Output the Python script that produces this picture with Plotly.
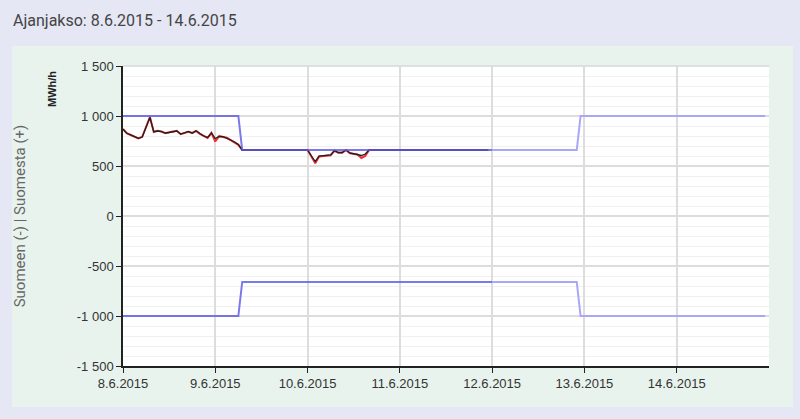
import plotly.graph_objects as go
import pandas as pd

start = pd.Timestamp("2015-06-08 00:00")

# hourly measured flow (red) and planned flow (black), MWh/h, hours 0..95
flow_black = [867, 825, 812, 795, 777, 790, 880, 985, 843, 850, 843, 830,
              835, 845, 850, 820, 830, 845, 828, 853, 825, 800, 785, 830,
              775, 795, 793, 780, 760, 740, 715, 660] + [660] * 16 + \
             [660, 600, 545, 598, 602, 605, 610, 655, 635, 635, 660, 630,
              622, 618, 605, 620] + [660] * 32
flow_red = [870, 828, 810, 793, 775, 792, 885, 990, 840, 852, 845, 828,
            838, 843, 852, 818, 832, 843, 830, 850, 822, 798, 780, 832,
            745, 798, 790, 782, 758, 738, 712, 660] + [660] * 16 + \
           [660, 595, 527, 595, 600, 603, 608, 652, 632, 632, 660, 627,
            620, 615, 580, 600] + [660] * 32

# capacity limits, hours 0..167 ; confirmed up to hour 96, forecast after
cap_export = [1000] * 31 + [660] * 88 + [1000] * 49
cap_import = [-1000] * 31 + [-660] * 88 + [-1000] * 49

ytick_vals = [-1500, -1000, -500, 0, 500, 1000, 1500]
ytick_text = ["-1 500", "-1 000", "-500", "0", "500", "1 000", "1 500"]
xtick_days = ["2015-06-08", "2015-06-09", "2015-06-10", "2015-06-11",
              "2015-06-12", "2015-06-13", "2015-06-14"]
xtick_text = ["8.6.2015", "9.6.2015", "10.6.2015", "11.6.2015",
              "12.6.2015", "13.6.2015", "14.6.2015"]

t_all = pd.date_range(start, periods=168, freq="h")
t_flow = t_all[:len(flow_black)]
split = 96

fig = go.Figure()
fig.add_trace(go.Scatter(x=t_flow, y=flow_red, mode="lines",
                         line=dict(color="#F03030", width=2), hoverinfo="skip"))
fig.add_trace(go.Scatter(x=t_flow, y=flow_black, mode="lines",
                         line=dict(color="#202020", width=1.3), hoverinfo="skip"))
for cap in (cap_export, cap_import):
    fig.add_trace(go.Scatter(x=t_all[:split + 1], y=cap[:split + 1], mode="lines",
                             line=dict(color="#5A5AE6", width=2), opacity=0.8,
                             hoverinfo="skip"))
    fig.add_trace(go.Scatter(x=t_all[split:], y=cap[split:], mode="lines",
                             line=dict(color="#A8A8F6", width=2),
                             hoverinfo="skip"))

fig.update_layout(
    width=800, height=419,
    margin=dict(l=123, r=31, t=66, b=53),
    paper_bgcolor="#E6E7F4",
    plot_bgcolor="#FFFFFF",
    showlegend=False,
    font=dict(family="Liberation Sans, Arial", size=13, color="#333333"),
    shapes=[dict(type="rect", xref="paper", yref="paper",
                 x0=-111 / 646, x1=1 + 24 / 646, y0=-41 / 300, y1=1 + 20 / 300,
                 fillcolor="#E8F3EE", line=dict(width=0), layer="below"),
            dict(type="rect", xref="paper", yref="paper",
                 x0=0, x1=1, y0=0, y1=1,
                 fillcolor="#FFFFFF", line=dict(width=0), layer="below"),
            dict(type="line", xref="paper", yref="paper", x0=0, x1=1, y0=1, y1=1,
                 line=dict(color="#D8D8D8", width=1.5))],
    annotations=[
        dict(text="Ajanjakso: 8.6.2015 - 14.6.2015", xref="paper", yref="paper",
             x=-112 / 646, y=1 + 46 / 300, xanchor="left", yanchor="middle",
             showarrow=False, font=dict(family="Roboto", size=16, color="#444444")),
        dict(text="<b>MWh/h</b>", xref="paper", yref="paper",
             x=-71 / 646, y=1 - 23 / 300, textangle=-90, xanchor="center",
             yanchor="middle", showarrow=False,
             font=dict(family="Liberation Sans", size=11, color="#222222")),
    ],
)
fig.update_xaxes(
    range=[start, start + pd.Timedelta(days=7)],
    tickvals=pd.to_datetime(xtick_days), ticktext=xtick_text,
    showgrid=True, gridcolor="#DDDDDD", gridwidth=1.5,
    showline=True, linecolor="#222222", linewidth=1.5,
    ticks="outside", ticklen=5, tickcolor="#222222",
    zeroline=False, automargin=False,
)
fig.update_yaxes(
    range=[-1500, 1500],
    tickvals=ytick_vals, ticktext=ytick_text,
    showgrid=True, gridcolor="#DDDDDD", gridwidth=1.5,
    minor=dict(dtick=100, showgrid=True, gridcolor="#F0F0F0", gridwidth=1),
    showline=True, linecolor="#222222", linewidth=1.5,
    ticks="outside", ticklen=5, tickcolor="#222222",
    zeroline=False, automargin=False,
    title=dict(text="Suomeen (-) | Suomesta (+)", standoff=48,
               font=dict(family="Roboto", size=15, color="#666666")),
)

fig.write_html("out.html", config={"displayModeBar": False},
               post_script="document.body.style.margin='0';document.body.style.background='#E6E7F4';")
